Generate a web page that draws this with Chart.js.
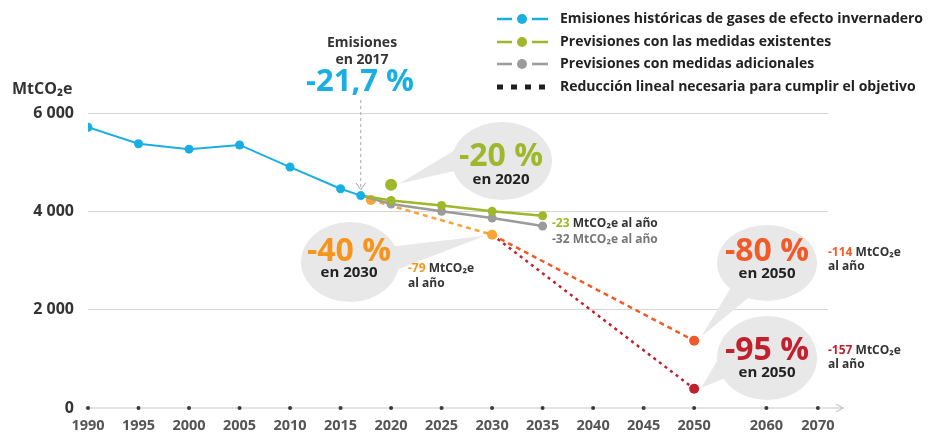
<!DOCTYPE html>
<html>
<head>
<meta charset="utf-8">
<script src="https://cdn.jsdelivr.net/npm/chart.js@4.4.1/dist/chart.umd.min.js"></script>
<style>
  html, body { margin: 0; padding: 0; background: #fff; }
  #wrap { width: 941px; height: 434px; position: relative; }
</style>
</head>
<body>
<div id="wrap"><canvas id="myChart"></canvas></div>
<script>
// axis layout: year ticks and their slot on the (non uniform) time axis
var axisYears = [1990, 1995, 2000, 2005, 2010, 2015, 2020, 2025, 2030, 2035, 2040, 2045, 2050, 2060, 2070];
var axisSlots = [0, 1, 2, 3, 4, 5, 6, 7, 8, 9, 10, 11, 12, 13.43, 14.45];
var yTicks = [0, 2000, 4000, 6000];

// series
var histYears = [1990, 1995, 2000, 2005, 2010, 2015, 2017];
var histValues = [5710, 5375, 5265, 5350, 4900, 4460, 4320];
var wemYears = [2017, 2020, 2025, 2030, 2035];
var wemValues = [4320, 4222, 4120, 4000, 3910];
var wamYears = [2017, 2020, 2025, 2030, 2035];
var wamValues = [4320, 4150, 4000, 3865, 3700];
var pathYears = [2018, 2030];
var pathValues = [4230, 3525];
var path80Years = [2030, 2050];
var path80Values = [3525, 1370];
var path95Years = [2030, 2050];
var path95Values = [3525, 390];
var targetYears = [2020];
var targetValues = [4540];

var legendLabels = [
    'Emisiones históricas de gases de efecto invernadero',
    'Previsiones con las medidas existentes',
    'Previsiones con medidas adicionales',
    'Reducción lineal necesaria para cumplir el objetivo'
];

var CYAN = '#19afe2', GREEN = '#9fb72a', GREY = '#9b9b9b', ORANGE = '#f8a535',
    ORED = '#f15a29', RED = '#c1202f', DARK = '#333333', BUBBLE = '#e8e8e8';
var FONT = '"Open Sans", "DejaVu Sans", sans-serif';

function yearToX(year) {
    for (var i = 0; i < axisYears.length - 1; i++) {
        if (year <= axisYears[i + 1]) {
            var t = (year - axisYears[i]) / (axisYears[i + 1] - axisYears[i]);
            return axisSlots[i] + t * (axisSlots[i + 1] - axisSlots[i]);
        }
    }
    return axisSlots[axisSlots.length - 1];
}

function pts(years, values) {
    return years.map(function (y, i) { return { x: yearToX(y), y: values[i] }; });
}

function fmt(v) {
    return String(v).replace(/\B(?=(\d{3})+(?!\d))/g, ' ');
}

// speech bubble: ellipse + wedge pointing to tip
function bubble(c, cx, cy, rx, ry, a1, a2, tx, ty) {
    c.save();
    c.fillStyle = BUBBLE;
    c.beginPath();
    c.ellipse(cx, cy, rx, ry, 0, 0, Math.PI * 2);
    c.fill();
    c.beginPath();
    c.moveTo(cx + rx * 0.9 * Math.cos(a1 * Math.PI / 180), cy + ry * 0.9 * Math.sin(a1 * Math.PI / 180));
    c.lineTo(tx, ty);
    c.lineTo(cx + rx * 0.9 * Math.cos(a2 * Math.PI / 180), cy + ry * 0.9 * Math.sin(a2 * Math.PI / 180));
    c.closePath();
    c.fill();
    c.restore();
}

function text(c, str, x, y, size, color, align) {
    c.font = 'bold ' + size + 'px ' + FONT;
    c.fillStyle = color;
    c.textAlign = align || 'center';
    c.textBaseline = 'middle';
    c.fillText(str, x, y);
}

// colored prefix + rest of string, left aligned
function mixed(c, parts, x, y, size) {
    c.font = 'bold ' + size + 'px ' + FONT;
    c.textAlign = 'left';
    c.textBaseline = 'middle';
    parts.forEach(function (p) {
        c.fillStyle = p[1];
        c.fillText(p[0], x, y);
        x += c.measureText(p[0]).width;
    });
}

var decor = {
    id: 'decor',
    beforeDatasetsDraw: function (chart) {
        var c = chart.ctx;
        var xs = chart.scales.x, ys = chart.scales.y;
        var y0 = ys.getPixelForValue(0);

        // x axis with arrow and tick dots
        c.save();
        c.strokeStyle = '#c8c8c8';
        c.lineWidth = 1.2;
        c.beginPath();
        c.moveTo(xs.left - 3, y0);
        c.lineTo(843, y0);
        c.moveTo(836, y0 - 4);
        c.lineTo(843, y0);
        c.lineTo(836, y0 + 4);
        c.stroke();
        c.fillStyle = '#3a3a3a';
        axisYears.forEach(function (yr) {
            c.beginPath();
            c.arc(xs.getPixelForValue(yearToX(yr)), y0, 2, 0, Math.PI * 2);
            c.fill();
        });
        c.restore();

        // bubbles under the lines
        var tg = { x: xs.getPixelForValue(yearToX(targetYears[0])), y: ys.getPixelForValue(targetValues[0]) };
        bubble(c, 502, 161, 50, 39, 165, 205, tg.x + 8, tg.y - 1);
        var p30 = { x: xs.getPixelForValue(yearToX(pathYears[1])), y: ys.getPixelForValue(pathValues[1]) };
        bubble(c, 350, 262, 49, 40, -25, 15, p30.x - 7, p30.y + 1);
        var p80 = { x: xs.getPixelForValue(yearToX(path80Years[1])), y: ys.getPixelForValue(path80Values[1]) };
        bubble(c, 767, 263, 50, 38, 110, 140, p80.x + 7, p80.y - 4);
        var p95 = { x: xs.getPixelForValue(yearToX(path95Years[1])), y: ys.getPixelForValue(path95Values[1]) };
        bubble(c, 767, 358, 50, 42, 150, 190, p95.x + 7, p95.y - 1);
    },
    afterDraw: function (chart) {
        var c = chart.ctx;
        var xs = chart.scales.x, ys = chart.scales.y;
        c.save();

        // y axis title
        text(c, 'MtCO₂e', 12, 89, 16, DARK, 'left');

        // legend
        var rows = [19, 42, 64, 87];
        var cols = [CYAN, GREEN, GREY];
        rows.forEach(function (ry, i) {
            if (i < 3) {
                c.strokeStyle = cols[i];
                c.lineWidth = 2.5;
                c.beginPath();
                c.moveTo(497, ry);
                c.lineTo(512, ry);
                c.moveTo(532, ry);
                c.lineTo(548, ry);
                c.stroke();
                c.fillStyle = cols[i];
                c.beginPath();
                c.arc(522, ry, 5, 0, Math.PI * 2);
                c.fill();
            } else {
                c.fillStyle = '#1e1e1e';
                for (var k = 0; k < 4; k++) c.fillRect(497 + k * 14, ry - 2.5, 6, 5);
            }
            text(c, legendLabels[i], 560, ry, 14, '#222', 'left');
        });

        // 2017 callout
        var hx = xs.getPixelForValue(yearToX(2017));
        var hy = ys.getPixelForValue(histValues[histValues.length - 1]);
        text(c, 'Emisiones', 362, 43, 14, DARK);
        text(c, 'en 2017', 362, 60, 14, DARK);
        text(c, '-21,7 %', 360, 82, 31, CYAN);
        c.strokeStyle = '#a8a8a8';
        c.lineWidth = 1;
        c.setLineDash([3, 3]);
        c.beginPath();
        c.moveTo(hx, 100);
        c.lineTo(hx, hy - 6);
        c.stroke();
        c.setLineDash([]);
        c.beginPath();
        c.moveTo(hx - 5, hy - 13);
        c.lineTo(hx, hy - 6);
        c.lineTo(hx + 5, hy - 13);
        c.stroke();

        // bubble texts
        text(c, '-20 %', 501, 157, 32, GREEN);
        text(c, 'en 2020', 501, 180, 15, '#222');
        text(c, '-40 %', 349, 252, 32, '#f7941d');
        text(c, 'en 2030', 349, 273, 15, '#222');
        text(c, '-80 %', 767, 252, 32, ORED);
        text(c, 'en 2050', 767, 274, 15, '#222');
        text(c, '-95 %', 767, 351, 32, RED);
        text(c, 'en 2050', 767, 373, 15, '#222');

        // side notes
        mixed(c, [['-23', GREEN], [' MtCO₂e al año', DARK]], 552, 224, 12);
        mixed(c, [['-32 MtCO₂e al año', '#777']], 552, 240, 12);
        mixed(c, [['-79', '#f7941d'], [' MtCO₂e', DARK]], 408, 269, 12);
        mixed(c, [['al año', DARK]], 408, 284, 12);
        mixed(c, [['-114', ORED], [' MtCO₂e', DARK]], 828, 253, 12);
        mixed(c, [['al año', DARK]], 828, 267, 12);
        mixed(c, [['-157', RED], [' MtCO₂e', DARK]], 828, 351, 12);
        mixed(c, [['al año', DARK]], 828, 365, 12);
        c.restore();
    }
};

var ctx = document.getElementById('myChart');
var myChart = new Chart(ctx, {
    type: 'scatter',
    data: {
        datasets: [
            {
                label: legendLabels[0],
                data: pts(histYears, histValues),
                showLine: true,
                borderColor: CYAN,
                backgroundColor: CYAN,
                borderWidth: 2,
                pointRadius: 4.5,
                pointBorderWidth: 0,
                order: 1
            },
            {
                label: 'target2020',
                data: pts(targetYears, targetValues),
                showLine: false,
                backgroundColor: GREEN,
                pointRadius: 6,
                pointBorderWidth: 0,
                order: 2
            },
            {
                label: legendLabels[1],
                data: pts(wemYears, wemValues),
                showLine: true,
                borderColor: GREEN,
                backgroundColor: GREEN,
                borderWidth: 2.5,
                pointRadius: [3, 4.5, 4.5, 4.5, 4.5],
                pointBorderWidth: 0,
                order: 3
            },
            {
                label: legendLabels[2],
                data: pts(wamYears, wamValues),
                showLine: true,
                borderColor: GREY,
                backgroundColor: GREY,
                borderWidth: 2.5,
                pointRadius: [0, 4.5, 4.5, 4.5, 4.5],
                pointBorderWidth: 0,
                order: 4
            },
            {
                label: legendLabels[3],
                data: pts(pathYears, pathValues),
                showLine: true,
                borderColor: ORANGE,
                backgroundColor: ORANGE,
                borderWidth: 2.5,
                borderDash: [5, 4],
                pointRadius: 5,
                pointBorderWidth: 0,
                order: 5
            },
            {
                label: 'path80',
                data: pts(path80Years, path80Values),
                showLine: true,
                borderColor: ORED,
                backgroundColor: ORED,
                borderWidth: 2.5,
                borderDash: [5, 4],
                pointRadius: [0, 5],
                pointBorderWidth: 0,
                order: 6
            },
            {
                label: 'path95',
                data: pts(path95Years, path95Values),
                showLine: true,
                borderColor: RED,
                backgroundColor: RED,
                borderWidth: 2.5,
                borderDash: [3, 4],
                pointRadius: [0, 5],
                pointBorderWidth: 0,
                order: 7
            }
        ]
    },
    options: {
        responsive: true,
        maintainAspectRatio: false,
        animation: false,
        layout: { padding: { top: 113, right: 113, left: 0, bottom: 0 } },
        plugins: {
            legend: { display: false },
            tooltip: { enabled: false }
        },
        scales: {
            x: {
                type: 'linear',
                min: 0,
                max: 14.65,
                grid: { display: false, drawTicks: false },
                border: { display: false },
                afterBuildTicks: function (scale) {
                    scale.ticks = axisYears.map(function (y) { return { value: yearToX(y) }; });
                },
                afterFit: function (scale) { scale.height = 26; },
                ticks: {
                    autoSkip: false,
                    maxRotation: 0,
                    padding: 9,
                    color: '#555',
                    font: { family: FONT, size: 14.5, weight: 'bold' },
                    callback: function (v, i) { return axisYears[i]; }
                }
            },
            y: {
                min: 0,
                max: 6000,
                afterBuildTicks: function (scale) {
                    scale.ticks = yTicks.map(function (v) { return { value: v }; });
                },
                afterFit: function (scale) { scale.width = 88; },
                border: { display: false },
                grid: {
                    drawTicks: false,
                    lineWidth: 1,
                    color: function (c) { return c.tick && c.tick.value === 0 ? 'rgba(0,0,0,0)' : '#d6d6d6'; }
                },
                ticks: {
                    padding: 14,
                    color: DARK,
                    font: { family: FONT, size: 16, weight: 'bold' },
                    callback: function (v) { return fmt(v); }
                }
            }
        }
    },
    plugins: [decor]
});
</script>
</body>
</html>
